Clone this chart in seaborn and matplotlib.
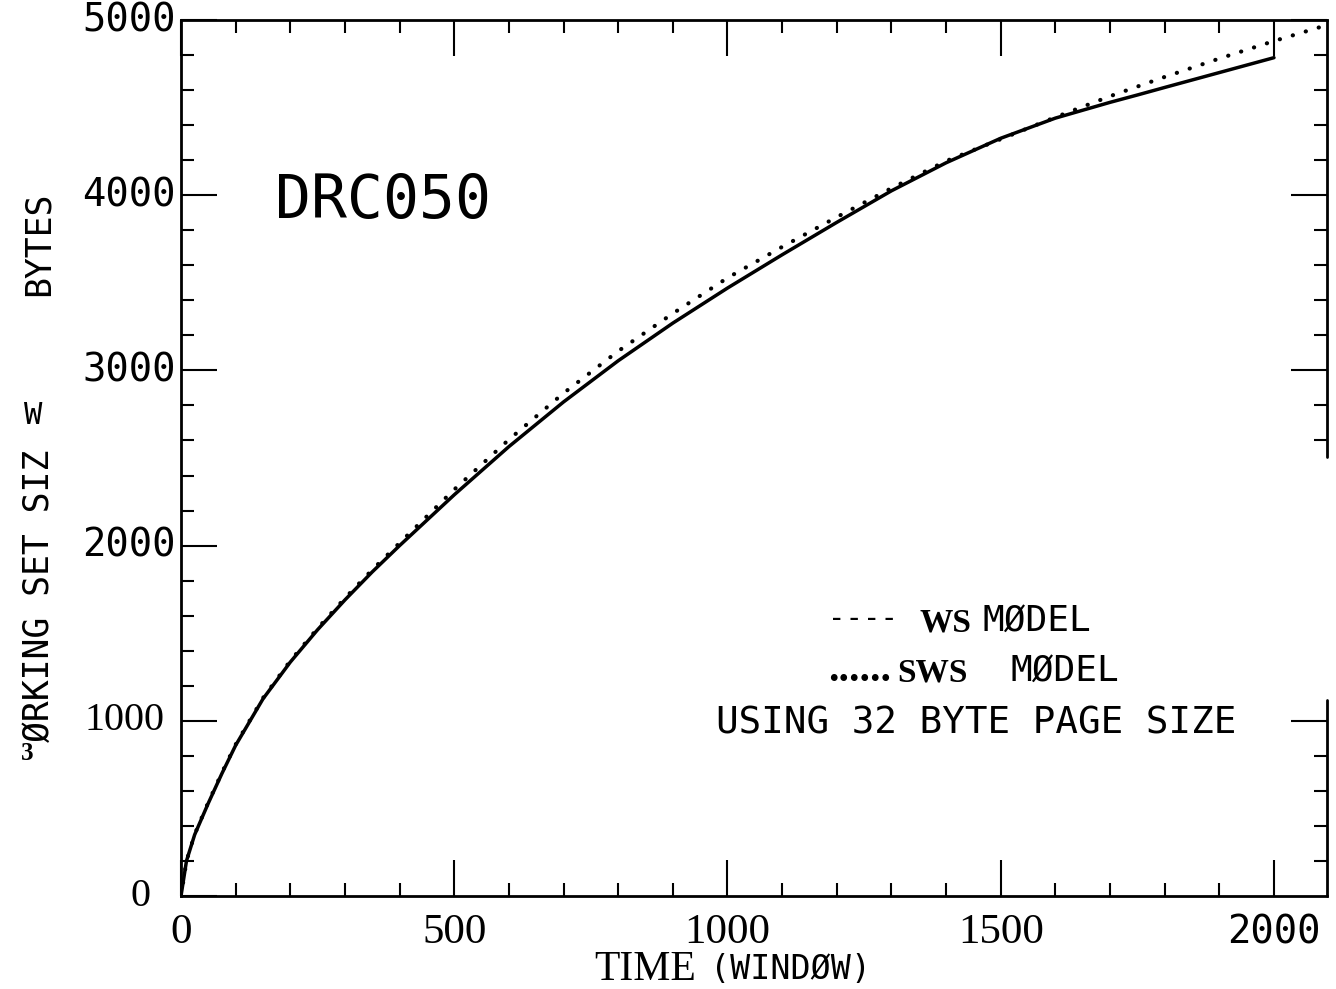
import matplotlib
matplotlib.use("Agg")
import matplotlib.pyplot as plt
import seaborn as sns
from matplotlib.ticker import FixedLocator

# ---------------- data ----------------
ws_time = [0, 10, 25, 50, 75, 100, 150, 200, 250, 300, 350, 400, 500, 600, 700, 800,
           900, 1000, 1100, 1200, 1300, 1400, 1500, 1600, 1700, 1750, 1800, 1900, 2000]
ws_size = [0, 200, 350, 530, 700, 860, 1125, 1335, 1520, 1690, 1850, 2000, 2290, 2565, 2820, 3055,
           3270, 3470, 3660, 3845, 4025, 4185, 4325, 4440, 4530, 4572, 4615, 4700, 4785]

sws_time = [0, 10, 25, 50, 75, 100, 150, 200, 250, 300, 350, 400, 500, 600, 700, 800,
            900, 1000, 1100, 1200, 1300, 1400, 1500, 1600, 1700, 1800, 1900, 2000, 2085]
sws_size = [0, 200, 352, 535, 705, 865, 1130, 1342, 1528, 1700, 1862, 2015, 2320, 2605, 2870, 3110,
            3325, 3528, 3705, 3875, 4040, 4195, 4320, 4445, 4565, 4675, 4780, 4880, 4960]

x_tick_values = [0, 500, 1000, 1500, 2000]
x_tick_labels = ["0", "500", "1000", "1500", "2000"]
x_minor_values = [100, 200, 300, 400, 600, 700, 800, 900, 1100, 1200, 1300, 1400,
                  1600, 1700, 1800, 1900]
y_tick_values = [0, 1000, 2000, 3000, 4000, 5000]
y_tick_labels = ["0", "1000", "2000", "3000", "4000", "5000"]
y_minor_values = [200, 400, 600, 800, 1200, 1400, 1600, 1800, 2200, 2400, 2600, 2800,
                  3200, 3400, 3600, 3800, 4200, 4400, 4600, 4800]
right_major_values = [1000, 3000, 4000, 5000]
right_minor_values = [200, 400, 600, 800, 2600, 2800, 3200, 3400, 3600, 3800,
                      4200, 4400, 4600, 4800]

title_text = "DRC050"
legend_rows = [("----", "WS", "MØDEL"), ("......", "SWS", "MØDEL")]
note_text = "USING 32 BYTE PAGE SIZE"

# ---------------- style ----------------
sns.set_theme(style="white")
plt.rcParams["font.family"] = ["DejaVu Sans"]
MONO = ["DejaVu Sans Mono", "DejaVu Sans"]
SERIF = ["Liberation Serif", "DejaVu Serif"]

W, H = 1336, 989
fig = plt.figure(figsize=(W / 100, H / 100), dpi=100)
fig.patch.set_facecolor("white")


def fx(px):
    return px / W


def fy(py):
    return 1 - py / H


ax = fig.add_axes([fx(181), fy(896), fx(1327) - fx(181), fy(20) - fy(896)])
ax.set_facecolor("white")

sns.lineplot(x=ws_time, y=ws_size, ax=ax, color="black", linewidth=2.5,
             sort=False, estimator=None)
sns.lineplot(x=sws_time, y=sws_size, ax=ax, color="black", linewidth=3.0,
             linestyle=(0, (0.05, 3.2)), dash_capstyle="round",
             sort=False, estimator=None)

ax.set_xlim(0, 2097)
ax.set_ylim(0, 5000)
ax.set_xlabel("")
ax.set_ylabel("")

for side in ["left", "top", "bottom"]:
    ax.spines[side].set_color("black")
    ax.spines[side].set_linewidth(2.0)
ax.spines["right"].set_visible(False)

ax.xaxis.set_major_locator(FixedLocator(x_tick_values))
ax.xaxis.set_minor_locator(FixedLocator(x_minor_values))
ax.yaxis.set_major_locator(FixedLocator(y_tick_values))
ax.yaxis.set_minor_locator(FixedLocator(y_minor_values))
ax.tick_params(which="major", direction="in", length=26, width=1.5, color="black",
               top=True, bottom=True, left=True, right=False,
               labelbottom=False, labelleft=False)
ax.tick_params(which="minor", direction="in", length=9.5, width=1.5, color="black",
               top=True, bottom=True, left=True, right=False)
ax.grid(False)

# right side: broken frame with its own ticks
ax2 = ax.twinx()
ax2.set_ylim(0, 5000)
for side in ["left", "top", "bottom", "right"]:
    ax2.spines[side].set_visible(False)
ax2.yaxis.set_major_locator(FixedLocator(right_major_values))
ax2.yaxis.set_minor_locator(FixedLocator(right_minor_values))
ax2.tick_params(which="major", direction="in", length=26, width=1.5, color="black",
                right=True, labelright=False)
ax2.tick_params(which="minor", direction="in", length=9.5, width=1.5, color="black",
                right=True)
ax2.grid(False)
ax.plot([1, 1], [0, 1120 / 5000], transform=ax.transAxes, color="black",
        linewidth=2.0, clip_on=False)
ax.plot([1, 1], [2505 / 5000, 1], transform=ax.transAxes, color="black",
        linewidth=2.0, clip_on=False)

# ---------------- tick labels ----------------
y_offsets = {"0": -31, "1000": -16}
for val, lab in zip(y_tick_values, y_tick_labels):
    if lab in ("0", "1000"):
        ax.annotate(lab, xy=(0, val), xycoords=("axes fraction", "data"),
                    xytext=(y_offsets[lab], 0), textcoords="offset pixels",
                    ha="right", va="center", family=SERIF, fontsize=29,
                    color="black", annotation_clip=False)
    else:
        ax.annotate(lab, xy=(0, val), xycoords=("axes fraction", "data"),
                    xytext=(-5, 0), textcoords="offset pixels",
                    ha="right", va="center", family=MONO, fontsize=28,
                    color="black", annotation_clip=False)

for val, lab in zip(x_tick_values, x_tick_labels):
    if lab == "2000":
        ax.annotate(lab, xy=(val, 0), xycoords=("data", "axes fraction"),
                    xytext=(0, -37), textcoords="offset pixels",
                    ha="center", va="center", family=MONO, fontsize=28,
                    color="black", annotation_clip=False)
    else:
        ax.annotate(lab, xy=(val, 0), xycoords=("data", "axes fraction"),
                    xytext=(0, -37), textcoords="offset pixels",
                    ha="center", va="center", family=SERIF, fontsize=31,
                    color="black", annotation_clip=False)

# ---------------- axis titles ----------------
fig.text(fx(594), fy(980), "TIME", family=SERIF, fontsize=30, ha="left",
         va="baseline", color="black")
fig.text(fx(710), fy(979), "(WINDØW)", family=MONO, fontsize=24, ha="left",
         va="baseline", color="black")

fig.text(fx(39), fy(742), "ØRKING SET SIZ", family=MONO, fontsize=25,
         rotation=90, ha="center", va="bottom", color="black")
fig.text(fx(33), fy(415), "W", family=MONO, fontsize=22, ha="center",
         va="center", color="black")
fig.text(fx(39), fy(296), "BYTES", family=MONO, fontsize=25,
         rotation=90, ha="center", va="bottom", color="black")
fig.text(fx(27), fy(760), "3", family=SERIF, fontsize=18, fontweight="bold",
         ha="center", va="baseline", color="black")

# ---------------- annotations ----------------
ax.annotate(title_text, xy=(fx(275), fy(218)), xycoords="figure fraction",
            family=MONO, fontsize=43, ha="left", va="baseline", color="black")

rows_y = [631, 681]
marker_x = [828, 828]
model_x = [[920, 982], [897, 1010]]
for (mark, name, word), by, mx, (nx, wx) in zip(legend_rows, rows_y, marker_x, model_x):
    if mark.startswith("-"):
        fig.text(fx(mx), fy(by - 4), mark, family=MONO, fontsize=21,
                 ha="left", va="baseline", color="black")
    else:
        fig.text(fx(mx), fy(by), mark, family=SERIF, fontsize=30,
                 fontweight="bold", ha="left", va="baseline", color="black")
    fig.text(fx(nx), fy(by), name, family=SERIF, fontsize=24, fontweight="bold",
             ha="left", va="baseline", color="black")
    fig.text(fx(wx), fy(by), word, family=MONO, fontsize=26, ha="left",
             va="baseline", color="black")

fig.text(fx(716), fy(734), note_text, family=MONO, fontsize=27, ha="left",
         va="baseline", color="black")

fig.savefig("out.png", dpi=100, facecolor="white")
